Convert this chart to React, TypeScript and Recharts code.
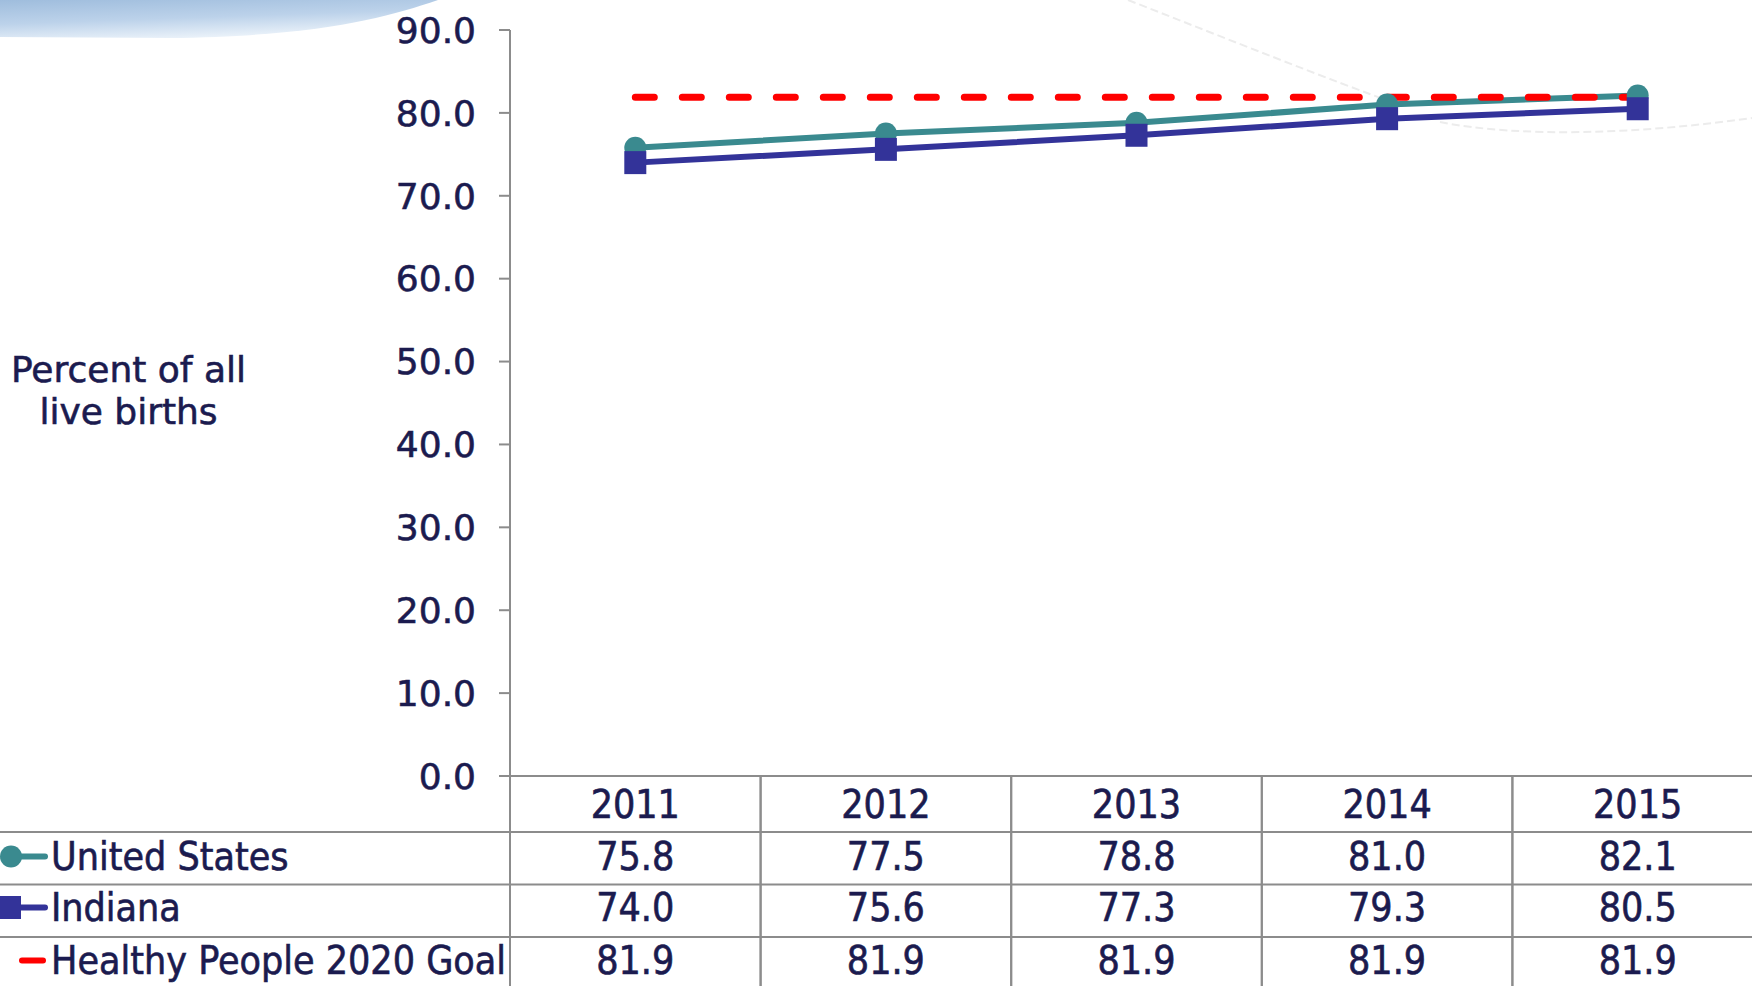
import React from 'react'
import { LineChart, Line, XAxis, YAxis } from 'recharts'

const YEARS = ['2011', '2012', '2013', '2014', '2015']
const US_VALUES = [75.8, 77.5, 78.8, 81.0, 82.1]
const INDIANA_VALUES = [74.0, 75.6, 77.3, 79.3, 80.5]
const GOAL_VALUES = [81.9, 81.9, 81.9, 81.9, 81.9]
const Y_TICKS = [0, 10, 20, 30, 40, 50, 60, 70, 80, 90]
const SERIES_NAMES = ['United States', 'Indiana', 'Healthy People 2020 Goal']
const AXIS_TITLE = ['Percent of all', 'live births']

const TEXT = '#1b1b4f'
const GRID = '#8c8c8c'
const US_COLOR = '#3a8a8f'
const IN_COLOR = '#333399'
const GOAL_COLOR = '#ff0000'
const TABLE_FONT = "'DejaVu Sans Condensed', 'DejaVu Sans', sans-serif"

const data = YEARS.map((year, i) => ({
  year,
  us: US_VALUES[i],
  indiana: INDIANA_VALUES[i],
  goal: GOAL_VALUES[i],
}))

// offsets of the table rows below the x axis line
const ROW_CENTERS = [28, 80.5, 131.5, 184.5]
const ROW_LINES = [56, 108.5, 161, 213.5]

const TableTick = (props: any) => {
  const { x, y, payload, index, width } = props
  const band = width / YEARS.length
  const left = x - band / 2
  const values = [US_VALUES, INDIANA_VALUES, GOAL_VALUES]
  const cellText = {
    fill: TEXT,
    stroke: TEXT,
    strokeWidth: 0.6,
    fontFamily: TABLE_FONT,
    fontSize: 39,
    fontStretch: 'condensed' as any,
  }

  return (
    <g>
      <line x1={left} y1={y} x2={left} y2={y + 240} stroke={GRID} strokeWidth={2} />
      <line x1={left + band} y1={y} x2={left + band} y2={y + 240} stroke={GRID} strokeWidth={2} />
      <text x={x} y={y + ROW_CENTERS[0]} textAnchor="middle" dominantBaseline="central" style={cellText}>
        {payload.value}
      </text>
      {values.map((arr, r) => (
        <text
          key={r}
          x={x}
          y={y + ROW_CENTERS[r + 1]}
          textAnchor="middle"
          dominantBaseline="central"
          style={cellText}
        >
          {arr[index].toFixed(1)}
        </text>
      ))}
      {index === 0 && (
        <g>
          {ROW_LINES.map((off, i) => (
            <line key={i} x1={0} y1={y + off} x2={left + band * YEARS.length} y2={y + off} stroke={GRID} strokeWidth={2} />
          ))}
          {/* legend keys */}
          <line x1={10} y1={y + ROW_CENTERS[1]} x2={45} y2={y + ROW_CENTERS[1]} stroke={US_COLOR} strokeWidth={6} strokeLinecap="round" />
          <circle cx={11} cy={y + ROW_CENTERS[1]} r={11} fill={US_COLOR} />
          <line x1={10} y1={y + ROW_CENTERS[2]} x2={45} y2={y + ROW_CENTERS[2]} stroke={IN_COLOR} strokeWidth={6} strokeLinecap="round" />
          <rect x={0} y={y + ROW_CENTERS[2] - 11.5} width={21} height={23} fill={IN_COLOR} />
          <line x1={22} y1={y + ROW_CENTERS[3]} x2={43} y2={y + ROW_CENTERS[3]} stroke={GOAL_COLOR} strokeWidth={6} strokeLinecap="round" />
          {SERIES_NAMES.map((name, i) => (
            <text key={name} x={51} y={y + ROW_CENTERS[i + 1]} dominantBaseline="central" style={cellText}>
              {name}
            </text>
          ))}
        </g>
      )}
    </g>
  )
}

const SquareDot = (props: any) => {
  const { cx, cy, key } = props
  if (cx == null || cy == null) return null
  return <rect key={key} x={cx - 11} y={cy - 11.5} width={22} height={23} fill={IN_COLOR} />
}

export default function App() {
  return (
    <div
      style={{
        position: 'absolute',
        left: 0,
        top: 0,
        width: 1752,
        height: 986,
        overflow: 'hidden',
        background: '#ffffff',
      }}
    >
      {/* background swoosh */}
      <svg width={1752} height={986} style={{ position: 'absolute', left: 0, top: 0 }}>
        <defs>
          <linearGradient id="swoosh" x1="0" y1="0" x2="0.4" y2="1">
            <stop offset="0%" stopColor="#9fbddd" />
            <stop offset="55%" stopColor="#bcd2ea" />
            <stop offset="100%" stopColor="#e9f1f9" />
          </linearGradient>
        </defs>
        <path d="M0,0 L438,0 C385,18 320,36 170,38 L0,37 Z" fill="url(#swoosh)" />
        <path d="M1128,0 C1230,40 1330,80 1400,105" fill="none" stroke="#ececec" strokeWidth={2} strokeDasharray="8 4" />
        <path d="M1440,122 C1520,138 1640,134 1752,118" fill="none" stroke="#ececec" strokeWidth={2} strokeDasharray="8 4" />
      </svg>

      <div
        style={{
          position: 'absolute',
          left: 0,
          top: 349,
          width: 257,
          textAlign: 'center',
          fontFamily: "'DejaVu Sans', sans-serif",
          fontSize: 36,
          lineHeight: '42px',
          color: TEXT,
          WebkitTextStroke: `0.6px ${TEXT}`,
        }}
      >
        {AXIS_TITLE[0]}
        <br />
        {AXIS_TITLE[1]}
      </div>

      <div style={{ position: 'absolute', left: 0, top: 0 }}>
        <LineChart width={1763} height={1000} data={data} margin={{ top: 30, right: 0, bottom: 0, left: 0 }}>
          <XAxis
            dataKey="year"
            scale="band"
            interval={0}
            height={224}
            tickLine={false}
            tickSize={0}
            tickMargin={0}
            axisLine={{ stroke: GRID, strokeWidth: 2 }}
            tick={<TableTick />}
          />
          <YAxis
            width={510}
            domain={[0, 90]}
            ticks={Y_TICKS}
            interval={0}
            tickFormatter={(v: number) => v.toFixed(1)}
            axisLine={{ stroke: GRID, strokeWidth: 2 }}
            tickLine={{ stroke: GRID, strokeWidth: 2 }}
            tickSize={11}
            tickMargin={23}
            tick={{ fill: TEXT, stroke: TEXT, strokeWidth: 0.6, fontSize: 36, fontFamily: "'DejaVu Sans', sans-serif" }}
          />
          <Line
            dataKey="us"
            stroke={US_COLOR}
            strokeWidth={6}
            dot={{ r: 11, fill: US_COLOR, stroke: 'none' }}
            activeDot={false}
            isAnimationActive={false}
          />
          <Line
            dataKey="indiana"
            stroke={IN_COLOR}
            strokeWidth={6}
            dot={<SquareDot />}
            activeDot={false}
            isAnimationActive={false}
          />
          <Line
            dataKey="goal"
            stroke={GOAL_COLOR}
            strokeWidth={7}
            strokeDasharray="19 28"
            strokeLinecap="round"
            dot={false}
            activeDot={false}
            isAnimationActive={false}
          />
        </LineChart>
      </div>
    </div>
  )
}
